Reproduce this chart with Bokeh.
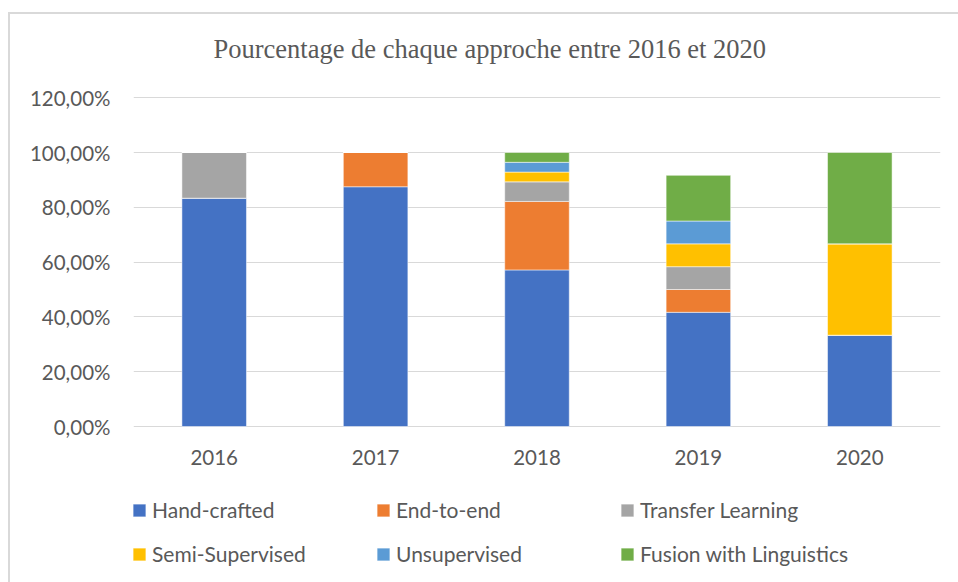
from bokeh.plotting import figure
from bokeh.models import (ColumnDataSource, FixedTicker, Legend, LegendItem, Label,
                          LabelSet, Range1d)
from bokeh.core.properties import value
from bokeh.embed import file_html
from bokeh.resources import INLINE

years = ["2016", "2017", "2018", "2019", "2020"]
hand_crafted = [83.33, 87.50, 57.14, 41.67, 33.33]
end_to_end = [0.0, 12.50, 25.00, 8.33, 0.0]
transfer_learning = [16.67, 0.0, 7.14, 8.33, 0.0]
semi_supervised = [0.0, 0.0, 3.57, 8.33, 33.33]
unsupervised = [0.0, 0.0, 3.57, 8.33, 0.0]
fusion_linguistics = [0.0, 0.0, 3.58, 16.67, 33.34]

series_labels = ["Hand-crafted", "End-to-end", "Transfer Learning",
                 "Semi-Supervised", "Unsupervised", "Fusion with Linguistics"]
series_keys = ["hc", "e2e", "tl", "semi", "unsup", "fusion"]
colors = ["#4472C4", "#ED7D31", "#A5A5A5", "#FFC000", "#5B9BD5", "#70AD47"]

y_ticks = [0, 20, 40, 60, 80, 100, 120]
y_tick_labels = ["0,00%", "20,00%", "40,00%", "60,00%", "80,00%", "100,00%", "120,00%"]

title_text = "Pourcentage de chaque approche entre 2016 et 2020"

source = ColumnDataSource(data=dict(
    years=years, hc=hand_crafted, e2e=end_to_end, tl=transfer_learning,
    semi=semi_supervised, unsup=unsupervised, fusion=fusion_linguistics,
    base=[0] * len(years)))

TXT = "#595959"
W, H = 958, 582
FRAME_TOP_PX, ZERO_PX = 97.2, 426.0          # pixel rows of 120 % and 0 %
px_per_unit = (ZERO_PX - FRAME_TOP_PX) / 120.0
y_lo = -(H - ZERO_PX) / px_per_unit           # frame spans the whole height
y_hi = 120 + FRAME_TOP_PX / px_per_unit

p = figure(x_range=years, y_range=Range1d(y_lo, y_hi), width=W, height=H,
           output_backend="svg", toolbar_location=None, x_axis_location=None,
           min_border_left=133, min_border_right=18,
           min_border_top=0, min_border_bottom=0)
p.title = None
p.styles = {"background": "linear-gradient(#d9d9d9, #d9d9d9) 8px 12px / 100% 2px no-repeat, "
                          "linear-gradient(#d9d9d9, #d9d9d9) 8px 12px / 2px 100% no-repeat, #ffffff"}
p.outline_line_color = None
p.background_fill_color = None
p.border_fill_color = None

renderers = p.vbar_stack(series_keys, x="years", width=0.4, color=colors,
                         source=source, line_color="white", line_alpha=0.5,
                         line_width=1)

p.xgrid.grid_line_color = None
p.ygrid.ticker = FixedTicker(ticks=y_ticks)
p.ygrid.grid_line_color = "#d9d9d9"
p.ygrid.grid_line_width = 1

ax = p.yaxis[0]
ax.ticker = FixedTicker(ticks=y_ticks)
ax.major_label_overrides = {t: l for t, l in zip(y_ticks, y_tick_labels)}
ax.axis_line_color = None
ax.major_tick_line_color = None
ax.minor_tick_line_color = None
ax.major_tick_out = 0
ax.major_tick_in = 0
ax.major_label_text_font = "Lato"
ax.major_label_text_font_size = "20.5px"
ax.major_label_text_color = TXT
ax.major_label_standoff = 23

# category labels under the bars, placed on the categorical scale
year_labels = LabelSet(x="years", y="base", text="years", source=source,
                       y_offset=-31, text_align="center", text_baseline="middle",
                       text_font=value("Lato"), text_font_size=value("20.5px"),
                       text_color=TXT)
p.add_layout(year_labels)

title = Label(x=80, y=H - 48, x_units="screen", y_units="screen", text=title_text,
              text_align="left", text_baseline="alphabetic",
              text_font="Liberation Serif", text_font_size="26.5px",
              text_color=TXT)
p.add_layout(title)

items = [LegendItem(label=lab, renderers=[r]) for lab, r in zip(series_labels, renderers)]
legend = Legend(items=items, location=(-2, 13), orientation="horizontal", ncols=3,
                glyph_width=16, glyph_height=16, label_standoff=5,
                label_width=210, label_height=31, spacing=13,
                padding=0, margin=0, border_line_color=None,
                background_fill_alpha=0,
                label_text_font="Lato", label_text_font_size="21px",
                label_text_color=TXT)
p.add_layout(legend, "center")

open("out.html", "w").write(file_html(p, INLINE))
